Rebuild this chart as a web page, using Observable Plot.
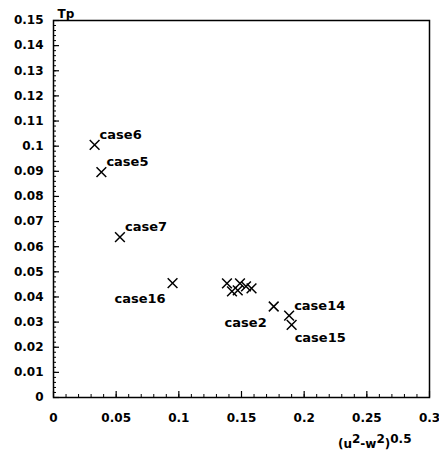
<!DOCTYPE html>
<html>
<head>
<meta charset="utf-8">
<script src="https://cdn.jsdelivr.net/npm/d3@7"></script>
<script src="https://cdn.jsdelivr.net/npm/@observablehq/plot@0.6"></script>
<style>
  html, body { margin: 0; padding: 0; background: white; }
</style>
</head>
<body>
<div id="chart"></div>
<script>
// Data
const names = ["case6", "case5", "case7", "case16", "", "", "", "", "", "", "case2", "case14", "case15"];
const xValues = [0.0328, 0.0382, 0.0530, 0.0950, 0.1384, 0.1424, 0.1488, 0.1470, 0.1536, 0.1580, 0.1757, 0.1880, 0.1900];
const yValues = [0.1005, 0.0897, 0.0638, 0.0455, 0.0454, 0.0422, 0.0454, 0.0426, 0.0442, 0.0434, 0.0362, 0.0326, 0.0289];
const xTicks = [0, 0.05, 0.1, 0.15, 0.2, 0.25, 0.3];
const xTickLabels = ["0", "0.05", "0.1", "0.15", "0.2", "0.25", "0.3"];
const yTicks = [0, 0.01, 0.02, 0.03, 0.04, 0.05, 0.06, 0.07, 0.08, 0.09, 0.1, 0.11, 0.12, 0.13, 0.14, 0.15];
const yTickLabels = ["0", "0.01", "0.02", "0.03", "0.04", "0.05", "0.06", "0.07", "0.08", "0.09", "0.1", "0.11", "0.12", "0.13", "0.14", "0.15"];
const xMinorTicks = d3.range(0, 31).map(i => i / 100);
const yMinorTicks = d3.range(0, 76).map(i => i / 500);
const yTitle = "Tp";

const points = names.map((n, i) => ({name: n, x: xValues[i], y: yValues[i]}));

// label placement relative to the cross
const placement = {case6: "ur", case5: "ur", case7: "ur", case14: "ur", case16: "ll", case2: "ll", case15: "lr"};
const labeled = points.filter(d => d.name);

const fmtX = d => xTickLabels[xTicks.indexOf(d)];
const fmtY = d => yTickLabels[yTicks.indexOf(d)];

const chart = Plot.plot({
  width: 439,
  height: 459,
  marginLeft: 53,
  marginRight: 10,
  marginTop: 20,
  marginBottom: 62,
  x: {domain: [0, 0.3]},
  y: {domain: [0, 0.15]},
  style: {fontFamily: "DejaVu Sans", fontSize: "12px", fontWeight: "bold", background: "white", color: "black"},
  marks: [
    Plot.frame({stroke: "black", strokeWidth: 1.5}),
    Plot.axisX({ticks: xMinorTicks, tickSize: -3, text: null, label: null, strokeWidth: 1}),
    Plot.axisX({ticks: xTicks, tickSize: -6, text: null, label: null, strokeWidth: 1.2}),
    Plot.axisX({ticks: xTicks, tickSize: 0, tickPadding: 16, tickFormat: fmtX, label: null}),
    Plot.axisY({ticks: yMinorTicks, tickSize: -3, text: null, label: null, strokeWidth: 1}),
    Plot.axisY({ticks: yTicks, tickSize: -6, text: null, label: null, strokeWidth: 1.2}),
    Plot.axisY({ticks: yTicks, tickSize: 0, tickPadding: 10, tickFormat: fmtY, label: null}),
    Plot.text([yTitle], {frameAnchor: "top-left", dx: 4, dy: -3, lineAnchor: "bottom", textAnchor: "start", fontSize: 12}),
    Plot.text(["xlabel"], {frameAnchor: "bottom-right", dx: -18, dy: 50, lineAnchor: "bottom", textAnchor: "end", fontSize: 12, className: "xlab"}),
    Plot.dot(points, {x: "x", y: "y", symbol: "times", r: 4.5, stroke: "black", strokeWidth: 1.5}),
    Plot.text(labeled.filter(d => placement[d.name] === "ur"), {x: "x", y: "y", text: "name", textAnchor: "start", dx: 5, dy: -10, fontSize: 13}),
    Plot.text(labeled.filter(d => placement[d.name] === "ll"), {x: "x", y: "y", text: "name", textAnchor: "end", dx: -7, dy: 16, fontSize: 13}),
    Plot.text(labeled.filter(d => placement[d.name] === "lr"), {x: "x", y: "y", text: "name", textAnchor: "start", dx: 3, dy: 13, fontSize: 13})
  ]
});

// Rich text for the x-axis title: (u²-w²)^0.5
const xl = d3.select(chart).select("g.xlab text");
if (!xl.empty()) {
  xl.text(null);
  const parts = [["(u", 0], ["2", -5], ["-w", 5], ["2", -5], [")", 5], ["0.5", -5]];
  parts.forEach(([t, dy]) => xl.append("tspan").attr("dy", dy).text(t));
}

document.getElementById("chart").appendChild(chart);
</script>
</body>
</html>
